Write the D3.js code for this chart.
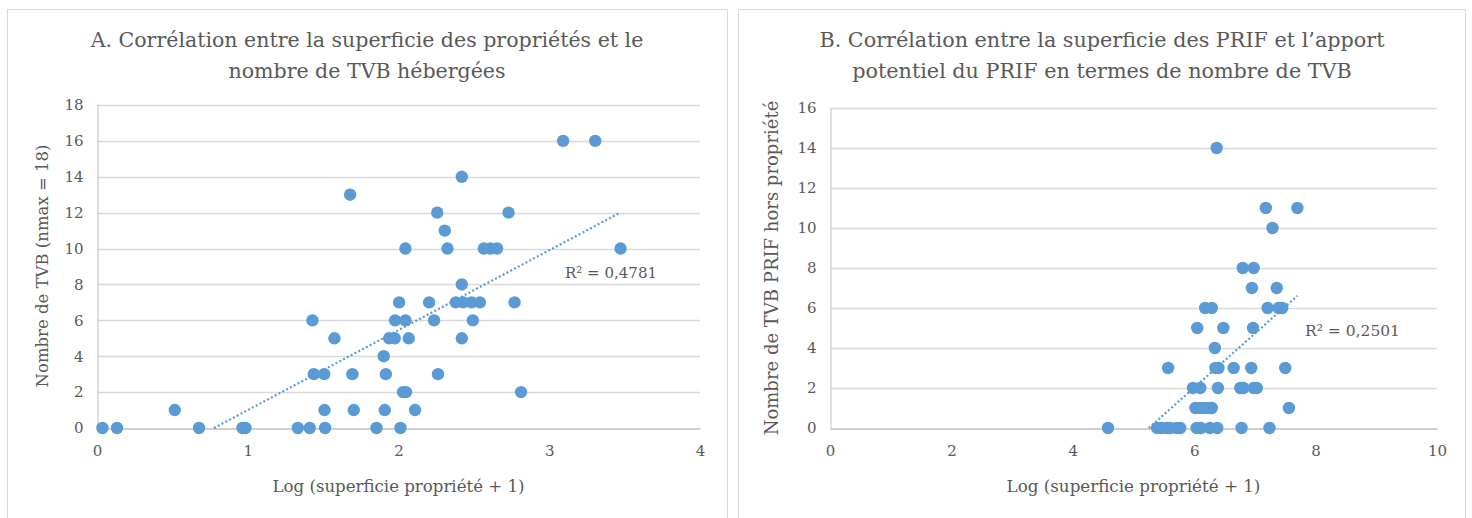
<!DOCTYPE html>
<html><head><meta charset="utf-8">
<script src="https://cdn.jsdelivr.net/npm/d3@7"></script>
<style>
body{margin:0;background:#fff}
svg text{font-family:"DejaVu Serif",serif;fill:#595959}
</style>
</head><body>
<svg id="chart" width="1472" height="518"></svg>
<script>
// ---------- Panel A data ----------
const titleA = ["A. Corrélation entre la superficie des propriétés et le", "nombre de TVB hébergées"];
const xLabelA = "Log (superficie propriété + 1)";
const yLabelA = "Nombre de TVB (nmax = 18)";
const r2A = "R² = 0,4781";
const xTicksA = [0, 1, 2, 3, 4];
const yTicksA = [0, 2, 4, 6, 8, 10, 12, 14, 16, 18];
const aX = [0.036, 0.133, 0.677, 0.965, 0.985, 1.332, 1.411, 1.513, 1.854, 2.013,
            0.516, 1.509, 1.703, 1.909, 2.11,
            2.03, 2.05, 2.813,
            1.438, 1.507, 1.694, 1.916, 2.262,
            1.902,
            1.575, 1.938, 1.975, 2.068, 2.42,
            1.429, 1.977, 2.046, 2.236, 2.493,
            2.004, 2.203, 2.38, 2.43, 2.486, 2.54, 2.77,
            2.42,
            2.046, 2.325, 2.566, 2.61, 2.654, 3.473,
            2.307,
            2.257, 2.73,
            1.679,
            2.42,
            3.092, 3.305];
const aY = [0, 0, 0, 0, 0, 0, 0, 0, 0, 0,
            1, 1, 1, 1, 1,
            2, 2, 2,
            3, 3, 3, 3, 3,
            4,
            5, 5, 5, 5, 5,
            6, 6, 6, 6, 6,
            7, 7, 7, 7, 7, 7, 7,
            8,
            10, 10, 10, 10, 10, 10,
            11,
            12, 12,
            13,
            14,
            16, 16];

// ---------- Panel B data ----------
const titleB = ["B. Corrélation entre la superficie des PRIF et l’apport", "potentiel du PRIF en termes de nombre de TVB"];
const xLabelB = "Log (superficie propriété + 1)";
const yLabelB = "Nombre de TVB PRIF hors propriété";
const r2B = "R² = 0,2501";
const xTicksB = [0, 2, 4, 6, 8, 10];
const yTicksB = [0, 2, 4, 6, 8, 10, 12, 14, 16];
const bX = [6.37,
            7.18, 7.70,
            7.29,
            6.80, 6.98,
            6.95, 7.36,
            6.18, 6.29, 7.21, 7.39, 7.45,
            6.05, 6.48, 6.97,
            6.34,
            5.57, 6.35, 6.40, 6.65, 6.94, 7.50,
            5.98, 6.10, 6.39, 6.76, 6.81, 6.98, 7.03,
            6.02, 6.10, 6.17, 6.24, 6.29, 7.56,
            4.58, 5.39, 5.46, 5.55, 5.60, 5.71, 5.77, 6.04, 6.11, 6.26, 6.38, 6.78, 7.24];
const bY = [14,
            11, 11,
            10,
            8, 8,
            7, 7,
            6, 6, 6, 6, 6,
            5, 5, 5,
            4,
            3, 3, 3, 3, 3, 3,
            2, 2, 2, 2, 2, 2, 2,
            1, 1, 1, 1, 1, 1,
            0, 0, 0, 0, 0, 0, 0, 0, 0, 0, 0, 0, 0];

const svg = d3.select("#chart");
const DOT = "#5b9bd5";

function fitText(sel, width) {
  sel.style("font-size", "16px");
  const w = sel.node().getComputedTextLength();
  const fs = 16 * width / w;
  sel.style("font-size", fs.toFixed(2) + "px");
  return fs;
}

function panel(cfg) {
  const g = svg.append("g");
  g.append("rect").attr("x", cfg.box[0] + 0.5).attr("y", cfg.box[1] + 0.5)
    .attr("width", cfg.box[2]).attr("height", cfg.box[3])
    .attr("fill", "#fff").attr("stroke", "#d9d9d9").attr("stroke-width", 1);

  const x = d3.scaleLinear().domain(cfg.xDomain).range([cfg.plot.l, cfg.plot.r]);
  const y = d3.scaleLinear().domain(cfg.yDomain).range([cfg.plot.b, cfg.plot.t]);

  // gridlines
  g.append("g").selectAll("line").data(cfg.yTicks.filter(d => d !== 0)).join("line")
    .attr("x1", cfg.plot.l).attr("x2", cfg.plot.r)
    .attr("y1", d => Math.round(y(d)) + 0.5).attr("y2", d => Math.round(y(d)) + 0.5)
    .attr("stroke", "#d9d9d9").attr("stroke-width", 1.3);

  // axes
  const yAxis = d3.axisLeft(y).tickValues(cfg.yTicks).tickFormat(d3.format("d")).tickSize(0).tickPadding(14);
  const ga = g.append("g").attr("transform", `translate(${cfg.plot.l + 0.5},0)`).call(yAxis);
  ga.select(".domain").attr("stroke", "#d0d0d0").attr("stroke-width", 1.3);
  ga.selectAll("text").style("font-size", "15px").attr("fill", "#595959").style("font-family", "DejaVu Serif");

  const xAxis = d3.axisBottom(x).tickValues(cfg.xTicks).tickFormat(d3.format("d")).tickSize(0).tickPadding(17);
  const gx = g.append("g").attr("transform", `translate(0,${Math.round(y(0)) + 0.5})`).call(xAxis);
  gx.select(".domain").attr("stroke", "#bfbfbf").attr("stroke-width", 1.5);
  gx.selectAll("text").style("font-size", "15px").attr("fill", "#595959").style("font-family", "DejaVu Serif");

  // trendline (least squares over the data)
  const xs = cfg.xs, ys = cfg.ys, n = xs.length;
  const mx = d3.mean(xs), my = d3.mean(ys);
  let sxy = 0, sxx = 0;
  for (let i = 0; i < n; i++) { sxy += (xs[i] - mx) * (ys[i] - my); sxx += (xs[i] - mx) ** 2; }
  const slope = sxy / sxx, icpt = my - slope * mx;
  let x0 = d3.min(xs), x1 = d3.max(xs);
  if (slope * x0 + icpt < 0) x0 = -icpt / slope;
  g.append("line")
    .attr("x1", x(x0)).attr("y1", y(slope * x0 + icpt))
    .attr("x2", x(x1)).attr("y2", y(slope * x1 + icpt))
    .attr("stroke", DOT).attr("stroke-width", 2.2)
    .attr("stroke-dasharray", "2 2.3");

  // dots
  g.append("g").selectAll("circle").data(d3.range(n)).join("circle")
    .attr("cx", i => x(xs[i])).attr("cy", i => y(ys[i])).attr("r", 6.2)
    .attr("fill", DOT);

  // R² label
  const rt = g.append("text").attr("x", cfg.r2pos[0]).attr("y", cfg.r2pos[1]).text(cfg.r2);
  fitText(rt, cfg.r2w);

  // title
  const t1 = g.append("text").attr("x", cfg.titleX).attr("y", cfg.titleY[0])
    .attr("text-anchor", "middle").text(cfg.title[0]);
  const fs = fitText(t1, cfg.titleW);
  g.append("text").attr("x", cfg.titleX).attr("y", cfg.titleY[1])
    .attr("text-anchor", "middle").style("font-size", fs.toFixed(2) + "px").text(cfg.title[1]);

  // axis titles
  const xl = g.append("text").attr("x", (cfg.plot.l + cfg.plot.r) / 2).attr("y", cfg.xLabelY)
    .attr("text-anchor", "middle").text(cfg.xLabel);
  fitText(xl, cfg.xLabelW);
  const yl = g.append("text")
    .attr("transform", `translate(${cfg.yLabelX},${cfg.yLabelC}) rotate(-90)`)
    .attr("text-anchor", "middle").text(cfg.yLabel);
  fitText(yl, cfg.yLabelW);
}

panel({
  box: [7, 9, 720, 530],
  plot: { l: 97, r: 700, t: 105, b: 428 },
  xDomain: [0, 4], yDomain: [0, 18],
  xTicks: xTicksA, yTicks: yTicksA,
  xs: aX, ys: aY,
  r2: r2A, r2pos: [565, 278], r2w: 92,
  title: titleA, titleX: 367, titleY: [47, 78], titleW: 553,
  xLabel: xLabelA, xLabelY: 492, xLabelW: 252,
  yLabel: yLabelA, yLabelX: 48, yLabelC: 266, yLabelW: 243
});

panel({
  box: [738, 9, 727, 530],
  plot: { l: 830, r: 1437, t: 108, b: 428 },
  xDomain: [0, 10], yDomain: [0, 16],
  xTicks: xTicksB, yTicks: yTicksB,
  xs: bX, ys: bY,
  r2: r2B, r2pos: [1305, 336], r2w: 95,
  title: titleB, titleX: 1102, titleY: [47, 78], titleW: 565,
  xLabel: xLabelB, xLabelY: 492, xLabelW: 254,
  yLabel: yLabelB, yLabelX: 778, yLabelC: 268, yLabelW: 335
});
</script>
</body></html>
